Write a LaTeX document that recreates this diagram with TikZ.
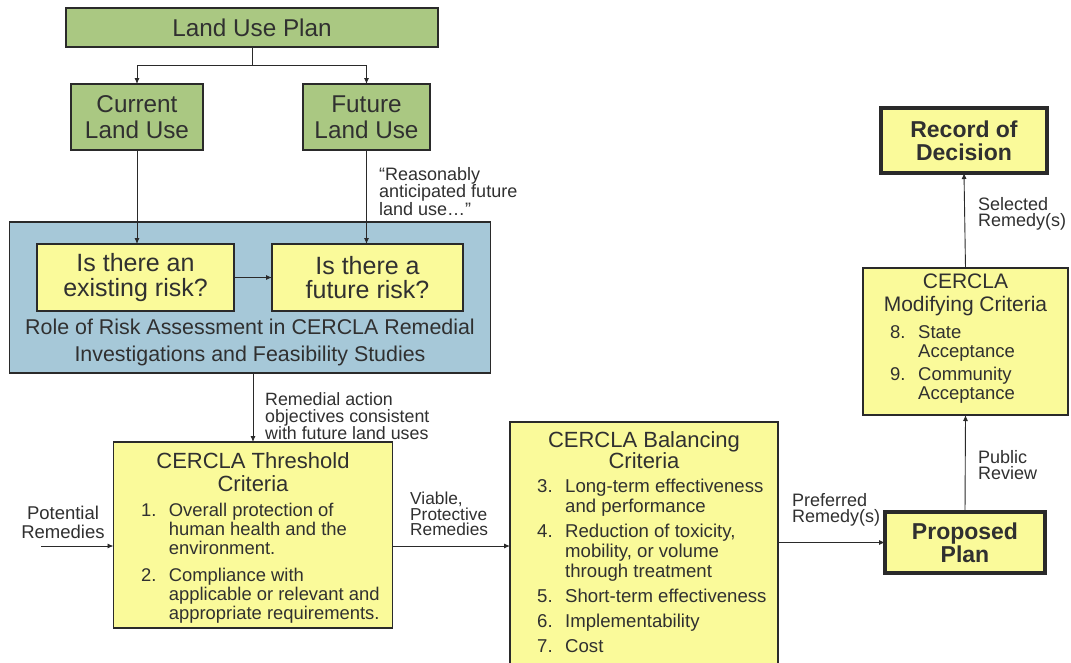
\documentclass[tikz,border=0pt]{standalone}
\usepackage{fontspec}
\setmainfont{Liberation Sans}
\usetikzlibrary{arrows.meta}
\definecolor{lugreen}{HTML}{AAC882}
\definecolor{yel}{HTML}{FAFA9A}
\definecolor{riskblue}{HTML}{A6C8D8}
\definecolor{ink}{HTML}{2A2A2A}
\definecolor{txt}{HTML}{303030}
\begin{document}
\begin{tikzpicture}[x=1pt,y=-1pt,
  box/.style={draw=ink, line width=1.3pt, inner sep=0pt, outer sep=0pt, anchor=north west, text=txt, align=center},
  greenbox/.style={box, fill=lugreen},
  yelbox/.style={box, fill=yel},
  bluebox/.style={box, fill=riskblue},
  heavybox/.style={box, fill=yel, line width=3.5pt, font=\bfseries\fontsize{23}{23}\selectfont},
  conn/.style={draw=ink, line width=0.9pt, -{Latex[length=6pt,width=5pt]}},
  lbl/.style={text=txt, inner sep=0pt, align=left, anchor=west, font=\fontsize{18}{16.5}\selectfont},
  txtc/.style={text=txt, inner sep=0pt, align=center},
  listbox/.style={text=txt, inner sep=0pt, anchor=north west},
]
\useasboundingbox[fill=white] (0,0) rectangle (1071,662);

% top boxes
\node[greenbox, minimum width=372pt, minimum height=39pt, font=\fontsize{24.3}{26}\selectfont] (lup) at (66,8) {Land Use Plan};
\node[greenbox, minimum width=132pt, minimum height=66pt, font=\fontsize{24.3}{26}\selectfont] (cur) at (71,84) {Current\\Land Use};
\node[greenbox, minimum width=127pt, minimum height=66pt, font=\fontsize{24.3}{26}\selectfont] (fut) at (303,84) {Future\\Land Use};

% risk assessment
\node[bluebox, minimum width=481pt, minimum height=151pt] (blue) at (9.5,222) {};
\node[yelbox, minimum width=197pt, minimum height=67pt, font=\fontsize{25}{24.5}\selectfont] (exist) at (37,244) {Is there an\\existing risk?};
\node[yelbox, minimum width=191pt, minimum height=67pt, font=\fontsize{25}{24.5}\selectfont] (frisk) at (272,244) {Is there a\\future risk?};
\node[txtc, font=\fontsize{21.4}{27}\selectfont] (role) at (250,342) {Role of Risk Assessment in CERCLA Remedial\\Investigations and Feasibility Studies};

% threshold
\node[yelbox, minimum width=279pt, minimum height=186pt] (thr) at (113.5,442) {};
\node[txtc, font=\fontsize{22}{23}\selectfont] (thrt) at (253,472.5) {CERCLA Threshold\\Criteria};
\node[listbox, font=\fontsize{18.4}{19}\selectfont] (thrl) at (141,503.2) {\begin{tabular}{@{}p{27.7pt}@{}l@{}}
1. & Overall protection of\\
   & human health and the\\
   & environment.\\[8pt]
2. & Compliance with\\
   & applicable or relevant and\\
   & appropriate requirements.
\end{tabular}};

% balancing
\node[yelbox, minimum width=268pt, minimum height=242pt] (bal) at (510,422) {};
\node[txtc, font=\fontsize{22}{21}\selectfont] (balt) at (644,450) {CERCLA Balancing\\Criteria};
\node[listbox, font=\fontsize{18.6}{20}\selectfont] (ball) at (537,478.6) {\begin{tabular}{@{}p{28pt}@{}l@{}}
3. & Long-term effectiveness\\
   & and performance\\[5pt]
4. & Reduction of toxicity,\\
   & mobility, or volume\\
   & through treatment\\[5pt]
5. & Short-term effectiveness\\[5pt]
6. & Implementability\\[5pt]
7. & Cost
\end{tabular}};

% right column
\node[heavybox, minimum width=160pt, minimum height=61pt] (pp) at (885,512) {Proposed\\Plan};
\node[yelbox, minimum width=205pt, minimum height=147pt] (mod) at (863,268) {};
\node[txtc, font=\fontsize{21}{23}\selectfont] (modt) at (965.5,294.5) {CERCLA\\Modifying Criteria};
\node[listbox, font=\fontsize{18.5}{19}\selectfont] (modl) at (890,325.2) {\begin{tabular}{@{}p{28pt}@{}l@{}}
8. & State\\
   & Acceptance\\[4pt]
9. & Community\\
   & Acceptance
\end{tabular}};
\node[heavybox, minimum width=166pt, minimum height=65pt] (rod) at (881,108) {Record of\\Decision};

% labels
\node[lbl] (quote) at (379,191.5) {“Reasonably\\anticipated future\\land use…”};
\node[lbl, font=\fontsize{17.8}{16.5}\selectfont] (raolbl) at (265,416.5) {Remedial action\\objectives consistent\\with future land uses};
\node[txtc, font=\fontsize{18.5}{19}\selectfont] (potlbl) at (63,522.5) {Potential\\Remedies};
\node[lbl, font=\fontsize{17.3}{15.8}\selectfont] (vialbl) at (410,514) {Viable,\\Protective\\Remedies};
\node[lbl] (preflbl) at (792,510) {Preferred\\Remedy(s)};
\node[lbl] (publbl) at (978,465) {Public\\Review};
\node[lbl] (sellbl) at (978,214) {Selected\\Remedy(s)};

% connectors
\coordinate (potin) at (41,546);
\draw[conn] (lup.south) -- ++(0,18) -| (cur.north);
\draw[conn] (lup.south) -- ++(0,18) -| (fut.north);
\draw[conn] (cur.south) -- (cur.south |- exist.north);
\draw[conn] (fut.south) -- (fut.south |- frisk.north);
\draw[conn] (exist.east) -- (frisk.west);
\draw[conn] (blue.south -| thr.north) -- (thr.north);
\draw[conn] (potin) -- (potin -| thr.west);
\draw[conn] (thr.east |- potin) -- (bal.west |- potin);
\draw[conn] (bal.east |- pp.west) -- (pp.west);
\draw[conn] (pp.north) -- (mod.south);
\draw[conn] (mod.north) -- (rod.south);
\end{tikzpicture}
\end{document}
